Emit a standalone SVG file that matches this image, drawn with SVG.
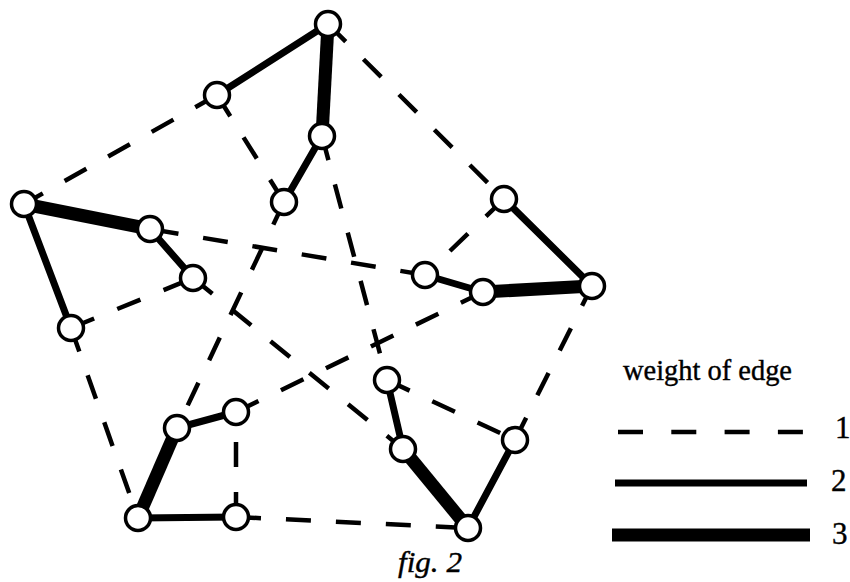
<svg xmlns="http://www.w3.org/2000/svg" width="850" height="582" viewBox="0 0 850 582">
<style>
.w1{stroke:#000;stroke-width:4.5;stroke-dasharray:25 25;fill:none}
.w2{stroke:#000;stroke-width:7;fill:none;stroke-linecap:round}
.w3{stroke:#000;stroke-width:13;fill:none}
.n{fill:#fff;stroke:#000;stroke-width:3.5}
.t{font-family:"Liberation Serif","Times New Roman",serif;fill:#000;stroke:#000;stroke-width:0.4}
</style>
<rect width="850" height="582" fill="#fff"/>
<g id="connectors">
<line class="w1" x1="217" y1="95" x2="24" y2="204"/>
<line class="w1" x1="328" y1="24" x2="504" y2="199"/>
<line class="w1" x1="217" y1="95" x2="284" y2="202"/>
<line class="w1" x1="322" y1="136" x2="387" y2="380"/>
<line class="w1" x1="425" y1="275" x2="150" y2="229"/>
<line class="w1" x1="504" y1="199" x2="425" y2="275"/>
<line class="w1" x1="236" y1="412" x2="483" y2="292"/>
<line class="w1" x1="284" y1="202" x2="177" y2="428"/>
<line class="w1" x1="193" y1="278" x2="403" y2="449"/>
<line class="w1" x1="71" y1="328" x2="193" y2="278"/>
<line class="w1" x1="71" y1="328" x2="138" y2="518"/>
<line class="w1" x1="236" y1="517" x2="236" y2="412"/>
<line class="w1" x1="236" y1="517" x2="468" y2="528"/>
<line class="w1" x1="515" y1="440" x2="592" y2="286"/>
<line class="w1" x1="387" y1="380" x2="515" y2="440"/>
<line class="w2" x1="328" y1="24" x2="217" y2="95"/>
<line class="w2" x1="322" y1="136" x2="284" y2="202"/>
<line class="w2" x1="150" y1="229" x2="193" y2="278"/>
<line class="w2" x1="24" y1="204" x2="71" y2="328"/>
<line class="w2" x1="177" y1="428" x2="236" y2="412"/>
<line class="w2" x1="138" y1="518" x2="236" y2="517"/>
<line class="w2" x1="504" y1="199" x2="592" y2="286"/>
<line class="w2" x1="425" y1="275" x2="483" y2="292"/>
<line class="w2" x1="387" y1="380" x2="403" y2="449"/>
<line class="w2" x1="468" y1="528" x2="515" y2="440"/>
<line class="w3" x1="328" y1="24" x2="322" y2="136"/>
<line class="w3" x1="24" y1="204" x2="150" y2="229"/>
<line class="w3" x1="483" y1="292" x2="592" y2="286"/>
<line class="w3" x1="177" y1="428" x2="138" y2="518"/>
<line class="w3" x1="403" y1="449" x2="468" y2="528"/>
</g>
<g id="nA"><circle class="n" cx="328" cy="24" r="12.5"/></g>
<g id="nB"><circle class="n" cx="217" cy="95" r="12.5"/></g>
<g id="nC"><circle class="n" cx="322" cy="136" r="12.5"/></g>
<g id="nD"><circle class="n" cx="284" cy="202" r="12.5"/></g>
<g id="nE"><circle class="n" cx="504" cy="199" r="12.5"/></g>
<g id="nF"><circle class="n" cx="24" cy="204" r="12.5"/></g>
<g id="nG"><circle class="n" cx="150" cy="229" r="12.5"/></g>
<g id="nH"><circle class="n" cx="193" cy="278" r="12.5"/></g>
<g id="nI"><circle class="n" cx="425" cy="275" r="12.5"/></g>
<g id="nJ"><circle class="n" cx="483" cy="292" r="12.5"/></g>
<g id="nK"><circle class="n" cx="592" cy="286" r="12.5"/></g>
<g id="nL"><circle class="n" cx="71" cy="328" r="12.5"/></g>
<g id="nM"><circle class="n" cx="387" cy="380" r="12.5"/></g>
<g id="nN"><circle class="n" cx="236" cy="412" r="12.5"/></g>
<g id="nO"><circle class="n" cx="177" cy="428" r="12.5"/></g>
<g id="nP"><circle class="n" cx="403" cy="449" r="12.5"/></g>
<g id="nQ"><circle class="n" cx="515" cy="440" r="12.5"/></g>
<g id="nR"><circle class="n" cx="138" cy="518" r="12.5"/></g>
<g id="nS"><circle class="n" cx="236" cy="517" r="12.5"/></g>
<g id="nT"><circle class="n" cx="468" cy="528" r="12.5"/></g>
<g id="legend">
<text class="t" x="623" y="380" font-size="30" textLength="169" lengthAdjust="spacingAndGlyphs">weight of edge</text>
<line x1="618" y1="432" x2="805" y2="432" stroke="#000" stroke-width="4.5" stroke-dasharray="25 28.3"/>
<line x1="615" y1="483" x2="807" y2="483" stroke="#000" stroke-width="7"/>
<line x1="612" y1="535" x2="810" y2="535" stroke="#000" stroke-width="13"/>
<text class="t" x="835" y="438" font-size="31">1</text>
<text class="t" x="831" y="491" font-size="31">2</text>
<text class="t" x="832" y="544" font-size="31">3</text>
</g>
<text class="t" x="398" y="572" font-size="29" font-style="italic" textLength="64" lengthAdjust="spacingAndGlyphs">fig. 2</text>
</svg>
